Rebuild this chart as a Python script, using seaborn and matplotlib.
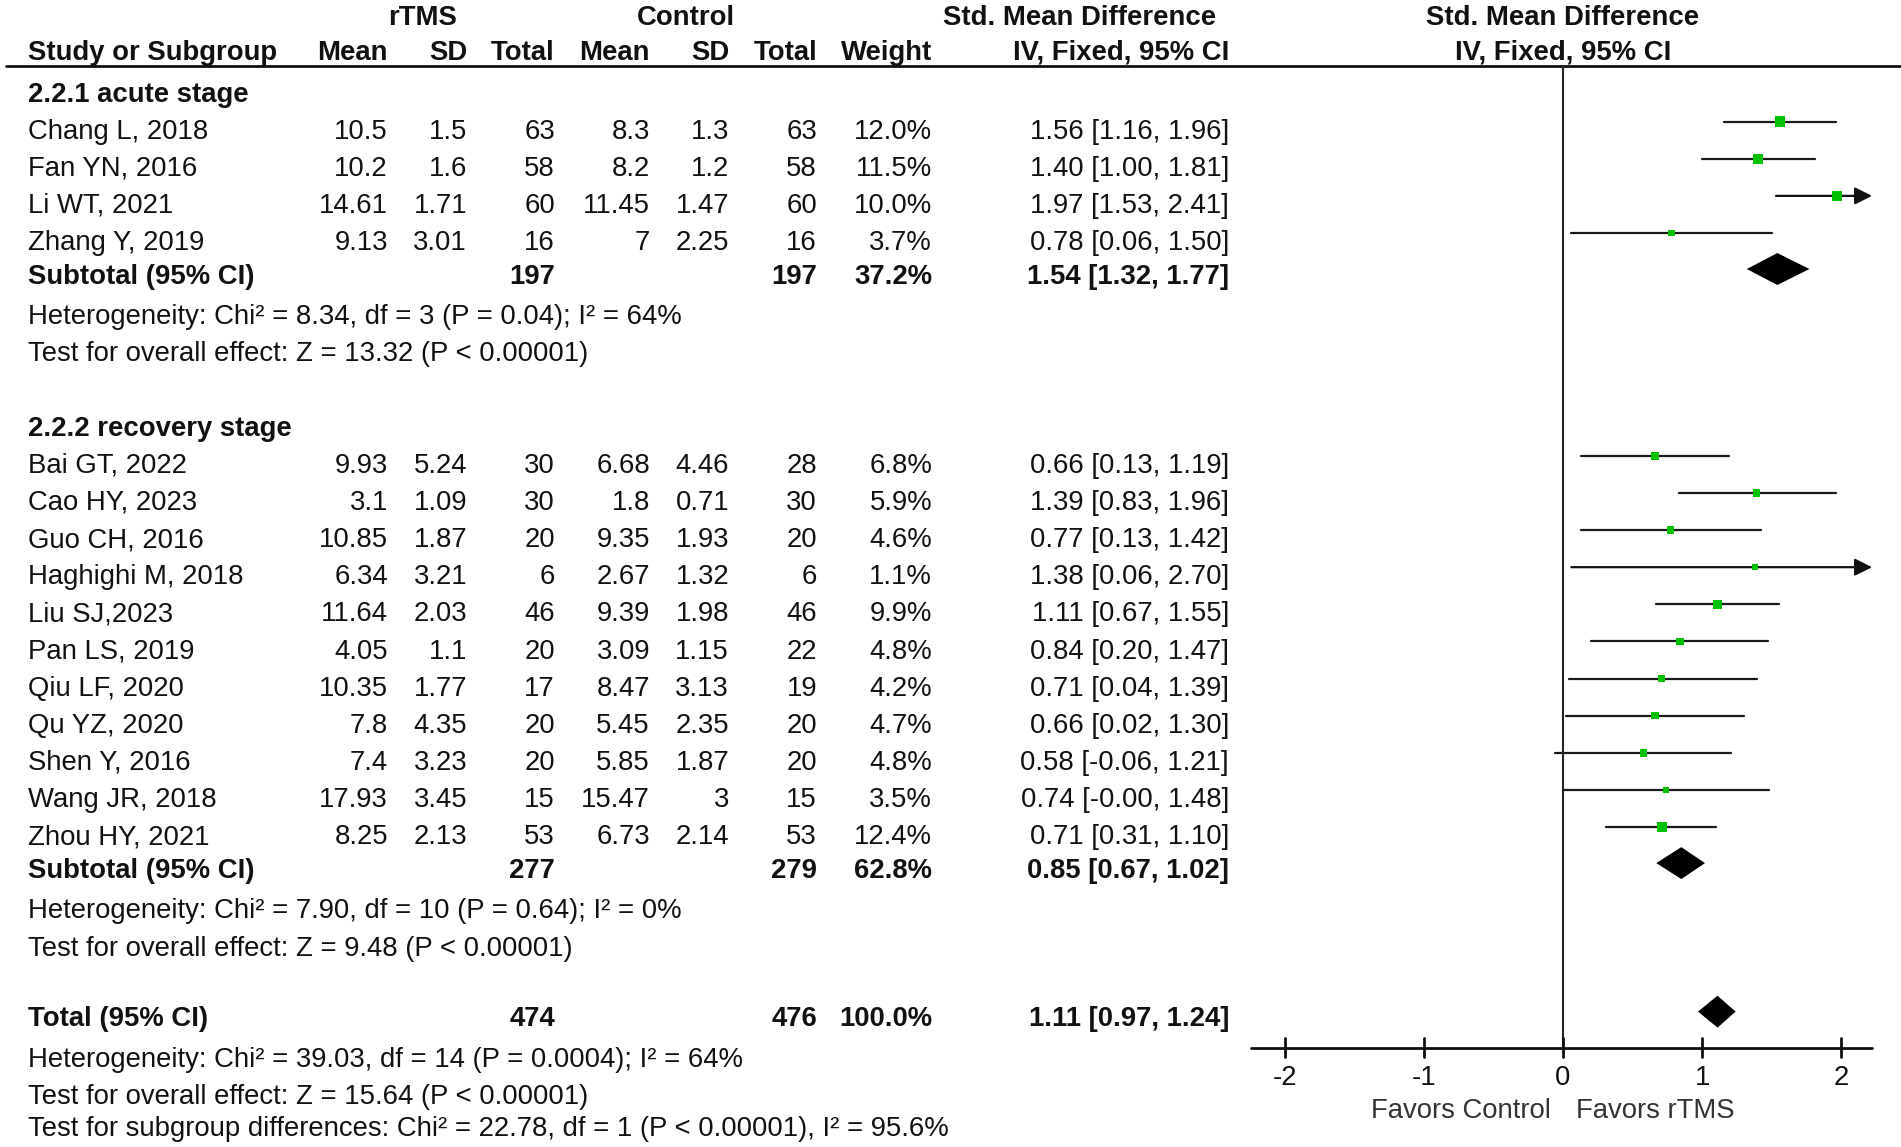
import matplotlib
matplotlib.use("Agg")
import matplotlib.pyplot as plt
from matplotlib import transforms
import pandas as pd
import seaborn as sns

# ---- values ----
study_names = ["Chang L, 2018", "Fan YN, 2016", "Li WT, 2021", "Zhang Y, 2019",
               "Bai GT, 2022", "Cao HY, 2023", "Guo CH, 2016", "Haghighi M, 2018",
               "Liu SJ,2023", "Pan LS, 2019", "Qiu LF, 2020", "Qu YZ, 2020",
               "Shen Y, 2016", "Wang JR, 2018", "Zhou HY, 2021"]
subgroup = ["acute"] * 4 + ["recovery"] * 11
rtms_mean = [10.5, 10.2, 14.61, 9.13, 9.93, 3.1, 10.85, 6.34, 11.64, 4.05, 10.35, 7.8, 7.4, 17.93, 8.25]
rtms_sd = [1.5, 1.6, 1.71, 3.01, 5.24, 1.09, 1.87, 3.21, 2.03, 1.1, 1.77, 4.35, 3.23, 3.45, 2.13]
rtms_n = [63, 58, 60, 16, 30, 30, 20, 6, 46, 20, 17, 20, 20, 15, 53]
ctrl_mean = [8.3, 8.2, 11.45, 7, 6.68, 1.8, 9.35, 2.67, 9.39, 3.09, 8.47, 5.45, 5.85, 15.47, 6.73]
ctrl_sd = [1.3, 1.2, 1.47, 2.25, 4.46, 0.71, 1.93, 1.32, 1.98, 1.15, 3.13, 2.35, 1.87, 3, 2.14]
ctrl_n = [63, 58, 60, 16, 28, 30, 20, 6, 46, 22, 19, 20, 20, 15, 53]
weight = [12.0, 11.5, 10.0, 3.7, 6.8, 5.9, 4.6, 1.1, 9.9, 4.8, 4.2, 4.7, 4.8, 3.5, 12.4]
smd = [1.56, 1.40, 1.97, 0.78, 0.66, 1.39, 0.77, 1.38, 1.11, 0.84, 0.71, 0.66, 0.58, 0.74, 0.71]
ci_low = [1.16, 1.00, 1.53, 0.06, 0.13, 0.83, 0.13, 0.06, 0.67, 0.20, 0.04, 0.02, -0.06, -0.0, 0.31]
ci_high = [1.96, 1.81, 2.41, 1.50, 1.19, 1.96, 1.42, 2.70, 1.55, 1.47, 1.39, 1.30, 1.21, 1.48, 1.10]

summary_labels = ["Subtotal (95% CI)", "Subtotal (95% CI)", "Total (95% CI)"]
summary_rtms_n = [197, 277, 474]
summary_ctrl_n = [197, 279, 476]
summary_weight = [37.2, 62.8, 100.0]
summary_smd = [1.54, 0.85, 1.11]
summary_low = [1.32, 0.67, 0.97]
summary_high = [1.77, 1.02, 1.24]

group_titles = ["2.2.1 acute stage", "2.2.2 recovery stage"]
stats_lines = [
    "Heterogeneity: Chi² = 8.34, df = 3 (P = 0.04); I² = 64%",
    "Test for overall effect: Z = 13.32 (P < 0.00001)",
    "Heterogeneity: Chi² = 7.90, df = 10 (P = 0.64); I² = 0%",
    "Test for overall effect: Z = 9.48 (P < 0.00001)",
    "Heterogeneity: Chi² = 39.03, df = 14 (P = 0.0004); I² = 64%",
    "Test for overall effect: Z = 15.64 (P < 0.00001)",
    "Test for subgroup differences: Chi² = 22.78, df = 1 (P < 0.00001), I² = 95.6%",
]
ticks = [-2, -1, 0, 1, 2]

# ---- layout (rows counted from the top) ----
study_rows = [3, 4, 5, 6] + list(range(12, 23))
summary_rows = [7, 23, 27]
title_rows = [2, 11]
stats_rows = [8, 9, 24, 25, 28, 29, 29.86]
axis_row = 27.81

sns.set_style("white")
plt.rcParams["font.family"] = ["Liberation Sans", "DejaVu Sans"]
FS = 19.8

fig = plt.figure(figsize=(19.01, 11.47), dpi=100)
ax = fig.add_axes([0, 0, 1, 1])
tr = transforms.blended_transform_factory(ax.transAxes, ax.transData)

# column right edges (figure fraction)
col_name = 0.0147
cols = {"m1": 0.2041, "s1": 0.2457, "n1": 0.2919, "m2": 0.3419, "s2": 0.3835,
        "n2": 0.4298, "w": 0.4903, "ci": 0.6465}
OFF = 0.31


def txt(x, row, s, ha="left", bold=False, off=OFF, transform=tr):
    ax.text(x, row + off, s, ha=ha, va="baseline", fontsize=FS,
            fontweight="bold" if bold else "normal", color="#111111",
            transform=transform)


# headers
txt(0.2225, 0, "rTMS", ha="center", bold=True, off=0.25)
txt(0.3609, 0, "Control", ha="center", bold=True, off=0.25)
txt(0.5681, 0, "Std. Mean Difference", ha="center", bold=True, off=0.25)
txt(0.0, 0, "Std. Mean Difference", ha="center", bold=True, off=0.25, transform=ax.transData)
txt(col_name, 1, "Study or Subgroup", bold=True, off=0.19)
for key, lab in zip(cols, ["Mean", "SD", "Total", "Mean", "SD", "Total", "Weight", "IV, Fixed, 95% CI"]):
    txt(cols[key], 1, lab, ha="right", bold=True, off=0.19)
txt(0.0, 1, "IV, Fixed, 95% CI", ha="center", bold=True, off=0.19, transform=ax.transData)
ax.plot([0.003, 1.0], [1.344, 1.344], transform=tr, color="#111111", lw=2.0)

for row, t in zip(title_rows, group_titles):
    txt(col_name, row, t, bold=True)

for i, row in enumerate(study_rows):
    txt(col_name, row, study_names[i])
    txt(cols["m1"], row, f"{rtms_mean[i]:g}", ha="right")
    txt(cols["s1"], row, f"{rtms_sd[i]:g}", ha="right")
    txt(cols["n1"], row, f"{rtms_n[i]}", ha="right")
    txt(cols["m2"], row, f"{ctrl_mean[i]:g}", ha="right")
    txt(cols["s2"], row, f"{ctrl_sd[i]:g}", ha="right")
    txt(cols["n2"], row, f"{ctrl_n[i]}", ha="right")
    txt(cols["w"], row, f"{weight[i]:.1f}%", ha="right")
    txt(cols["ci"], row, f"{smd[i]:.2f} [{ci_low[i]:.2f}, {ci_high[i]:.2f}]", ha="right")

for i, row in enumerate(summary_rows):
    txt(col_name, row, summary_labels[i], bold=True, off=0.22)
    txt(cols["n1"], row, f"{summary_rtms_n[i]}", ha="right", bold=True, off=0.22)
    txt(cols["n2"], row, f"{summary_ctrl_n[i]}", ha="right", bold=True, off=0.22)
    txt(cols["w"], row, f"{summary_weight[i]:.1f}%", ha="right", bold=True, off=0.22)
    txt(cols["ci"], row, f"{summary_smd[i]:.2f} [{summary_low[i]:.2f}, {summary_high[i]:.2f}]",
        ha="right", bold=True, off=0.22)

for row, s in zip(stats_rows, stats_lines):
    txt(col_name, row, s)

# ---- forest panel ----
x_end = 2.22
ax.plot([0, 0], [1.344, axis_row], color="#222222", lw=1.5)
ax.plot([-2.24, x_end], [axis_row, axis_row], color="#111111", lw=2.0)
for t in ticks:
    ax.plot([t, t], [axis_row - 0.27, axis_row + 0.24], color="#111111", lw=2.0)
    ax.text(t, 28.80, f"{t}", ha="center", va="baseline", fontsize=FS, color="#111111")
ax.text(-0.09, 29.69, "Favors Control", ha="right", va="baseline", fontsize=FS, color="#333333")
ax.text(0.09, 29.69, "Favors rTMS", ha="left", va="baseline", fontsize=FS, color="#333333")

df = pd.DataFrame({"smd": smd, "low": ci_low, "high": ci_high, "weight": weight,
                   "ypos": [r - 0.15 for r in study_rows]})
for _, r in df.iterrows():
    if r["high"] > x_end:
        ax.annotate("", xy=(x_end, r["ypos"]), xytext=(r["low"], r["ypos"]),
                    arrowprops=dict(arrowstyle="-|>", mutation_scale=26, lw=1.6,
                                    color="#111111", shrinkA=0, shrinkB=0))
    else:
        ax.plot([r["low"], r["high"]], [r["ypos"], r["ypos"]], color="#1a1a1a", lw=1.6)

sns.scatterplot(data=df, x="smd", y="ypos", size="weight", sizes=(12, 56), size_norm=(0, 12.4),
                marker="s", color="#00C000", linewidth=0, legend=False, ax=ax, zorder=3)

for i, row in enumerate(summary_rows):
    yc = row - 0.18
    h = 0.43
    ax.fill([summary_low[i], summary_smd[i], summary_high[i], summary_smd[i]],
            [yc, yc - h, yc, yc + h], color="black", lw=0)

ax.set_xlim(-11.228, 2.428)
ax.set_ylim(30.466, -0.4255)
ax.set_axis_off()

fig.savefig("out.png", dpi=100, facecolor="white")
